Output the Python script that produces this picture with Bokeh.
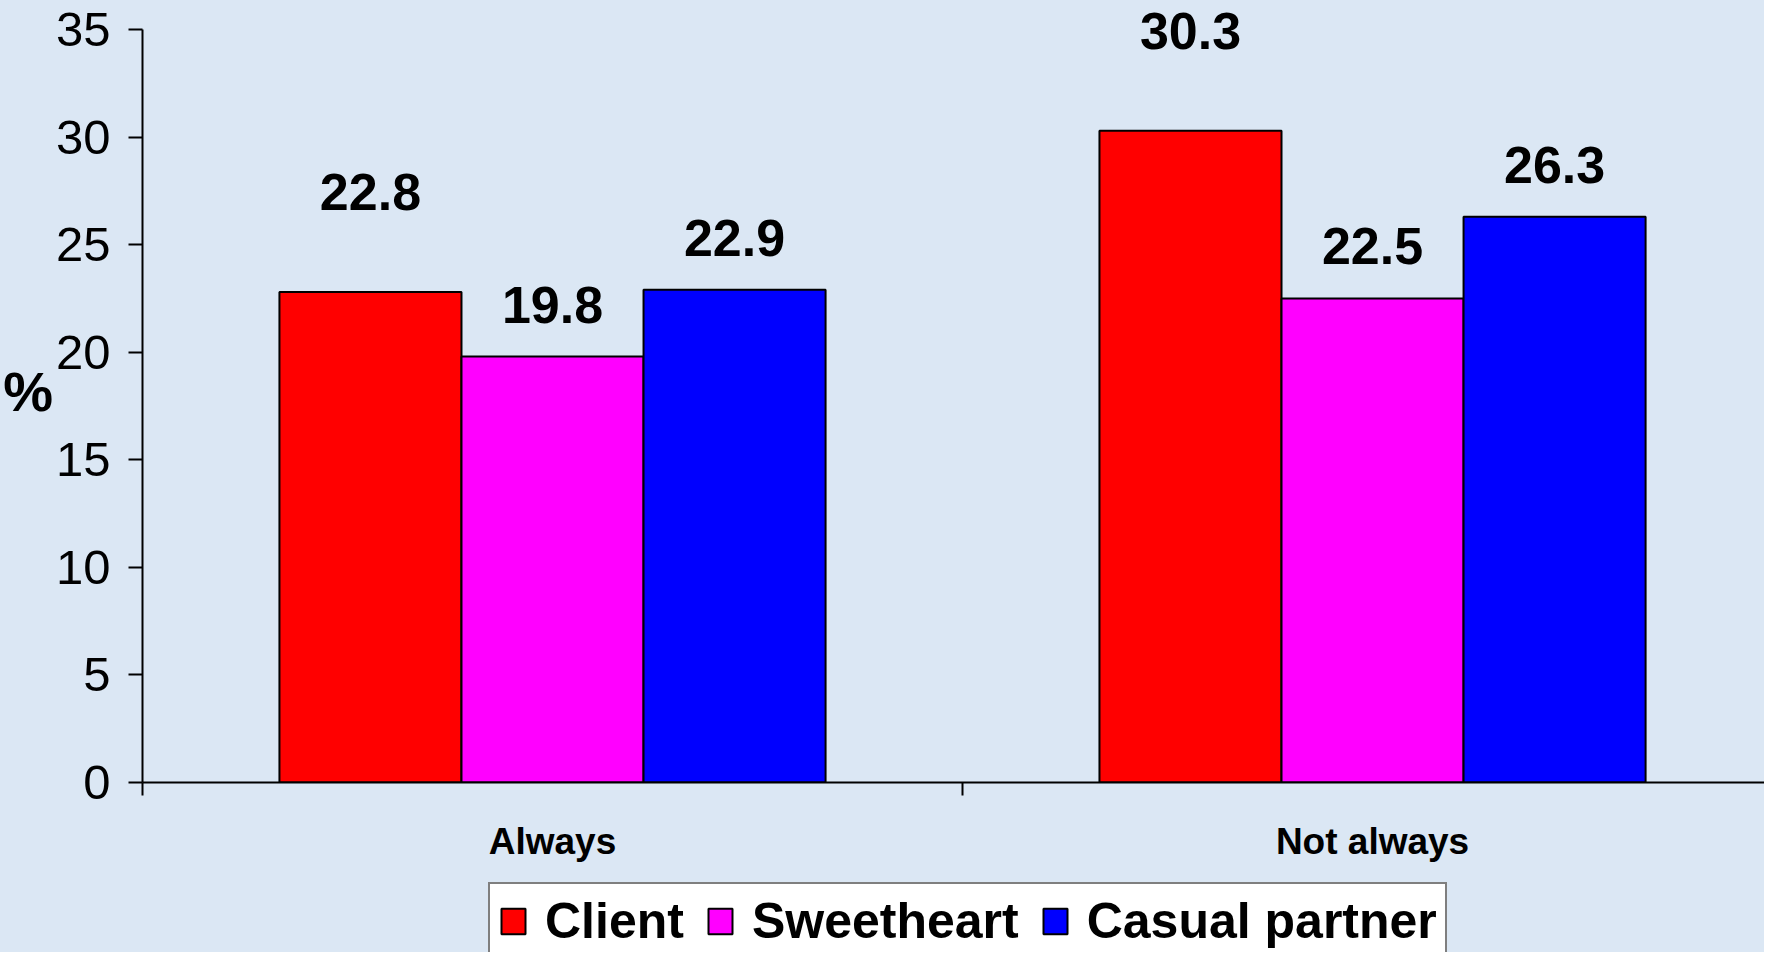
from bokeh.plotting import figure
from bokeh.layouts import column
from bokeh.models import Range1d, FixedTicker, Legend, LegendItem, LabelSet, ColumnDataSource
from bokeh.core.properties import value
from bokeh.embed import file_html
from bokeh.resources import INLINE

categories = ["Always", "Not always"]
series = ["Client", "Sweetheart", "Casual partner"]
client = [22.8, 30.3]
sweetheart = [19.8, 22.5]
casual = [22.9, 26.3]
y_ticks = [0, 5, 10, 15, 20, 25, 30, 35]

values = [client, sweetheart, casual]
colors = ["#ff0000", "#ff00ff", "#0000ff"]
offsets = [-0.222, 0.0, 0.222]
label_gaps = [82, 34, 34]
FONT = "Liberation Sans"
BG = "#dbe7f4"

p = figure(width=1764, height=870, output_backend="svg", toolbar_location=None,
           x_range=Range1d(0, 1.978), y_range=Range1d(0, 36.35),
           min_border_left=142, min_border_right=0, min_border_top=0,
           min_border_bottom=88)
p.background_fill_color = BG
p.border_fill_color = BG
p.outline_line_color = None
p.grid.visible = False

centers = [i + 0.5 for i in range(len(categories))]
sources = []
for name, vals, col, off, gap in zip(series, values, colors, offsets, label_gaps):
    src = ColumnDataSource(dict(x=[c + off for c in centers], top=vals,
                                text=[f"{v:.1f}" for v in vals]))
    sources.append(src)
    p.vbar(x="x", top="top", width=0.222, bottom=0, source=src,
           fill_color=col, line_color="black", line_width=2)
    lbl = LabelSet(x="x", y="top", text="text", source=src, y_offset=gap,
                   text_align="center", text_baseline="alphabetic",
                   text_font=value(FONT), text_font_style="bold",
                   text_font_size="52px", text_color="black")
    p.add_layout(lbl)

# x axis
xa = p.xaxis[0]
xa.ticker = FixedTicker(ticks=centers, minor_ticks=[0, 1, 2])
xa.major_label_overrides = {c: cat for c, cat in zip(centers, categories)}
xa.major_tick_out = 0
xa.major_tick_in = 0
xa.minor_tick_out = 13
xa.minor_tick_in = 0
xa.minor_tick_line_width = 2
xa.axis_line_width = 2
xa.axis_line_color = "black"
xa.major_label_standoff = 25
xa.major_label_text_font = FONT
xa.major_label_text_font_style = "bold"
xa.major_label_text_font_size = "37px"
xa.major_label_text_color = "black"

# y axis
ya = p.yaxis[0]
ya.ticker = FixedTicker(ticks=y_ticks, minor_ticks=[])
ya.bounds = (0, 35)
ya.major_tick_out = 14
ya.major_tick_in = 0
ya.major_tick_line_width = 2
ya.axis_line_width = 2
ya.axis_line_color = "black"
ya.major_label_standoff = 18
ya.major_label_text_font = FONT
ya.major_label_text_font_size = "49px"
ya.major_label_text_color = "black"
ya.axis_label = "%"
ya.axis_label_orientation = "horizontal"
ya.axis_label_text_font = FONT
ya.axis_label_text_font_style = "bold"
ya.axis_label_text_font_size = "56px"
ya.axis_label_text_color = "black"
ya.axis_label_standoff = 0

# legend strip below the chart (hidden copies of the series act as legend glyphs)
p2 = figure(width=1764, height=82, output_backend="svg", toolbar_location=None,
            x_range=Range1d(0, 1.978), y_range=Range1d(0, 36.35),
            x_axis_location=None, y_axis_location=None,
            min_border_left=0, min_border_right=0, min_border_top=0,
            min_border_bottom=0)
p2.background_fill_color = BG
p2.border_fill_color = BG
p2.outline_line_color = None
p2.grid.visible = False

items = []
for name, col, src in zip(series, colors, sources):
    r = p2.vbar(x="x", top="top", width=0.222, source=src, fill_color=col,
                line_color="black", line_width=2, visible=False)
    items.append(LegendItem(label=name, renderers=[r]))

legend = Legend(items=items, orientation="horizontal", location=(346, -8),
                border_line_color="black", border_line_width=2,
                background_fill_color="white", background_fill_alpha=1.0,
                inactive_fill_alpha=0.0,
                label_text_font=FONT, label_text_font_style="bold",
                label_text_font_size="50px", label_text_color="black",
                glyph_width=30, glyph_height=32, label_standoff=17,
                spacing=21, padding=8, margin=0)
p2.add_layout(legend)

layout = column(p, p2, spacing=0, styles={"background-color": BG})
open("out.html", "w").write(file_html(layout, INLINE))
